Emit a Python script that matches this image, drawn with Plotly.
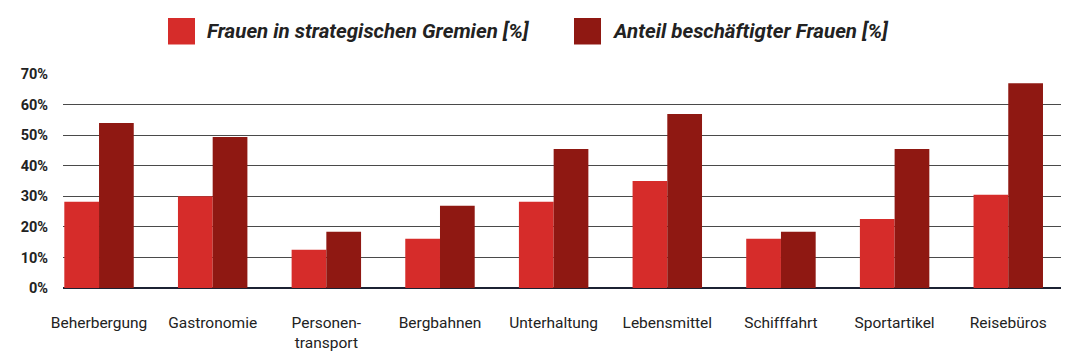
import plotly.graph_objects as go

categories = ["Beherbergung", "Gastronomie", "Personen-<br>transport", "Bergbahnen",
              "Unterhaltung", "Lebensmittel", "Schifffahrt", "Sportartikel", "Reisebüros"]
gremien = [28.2, 30.0, 12.5, 16.1, 28.2, 35.0, 16.1, 22.6, 30.5]
beschaeftigt = [54.0, 49.4, 18.4, 26.9, 45.5, 56.9, 18.4, 45.5, 67.0]
series_names = ["Frauen in strategischen Gremien [%]", "Anteil beschäftigter Frauen [%]"]
colors = ["#d62c2a", "#8f1812"]
y_ticks = [0, 10, 20, 30, 40, 50, 60, 70]

W, H = 1072, 355
L, R, T, B = 63, 11, 74, 67
pw, ph = W - L - R, H - T - B

fig = go.Figure()
fig.add_trace(go.Bar(x=list(range(len(categories))), y=gremien, name=series_names[0],
                     marker=dict(color=colors[0], line=dict(width=0)), showlegend=False))
fig.add_trace(go.Bar(x=list(range(len(categories))), y=beschaeftigt, name=series_names[1],
                     marker=dict(color=colors[1], line=dict(width=0)), showlegend=False))

def px_x(px):
    return (px - L) / pw

def px_y(py):
    return (H - B - py) / ph

# manual legend (large squares)
legend_items = [(168, 205), (574, 610)]
shapes = []
annotations = []
for (sq_x, tx_x), name, col in zip(legend_items, series_names, colors):
    shapes.append(dict(type="rect", xref="paper", yref="paper",
                       x0=px_x(sq_x), x1=px_x(sq_x + 27), y0=px_y(44.5), y1=px_y(18),
                       fillcolor=col, line=dict(width=0)))
    annotations.append(dict(xref="paper", yref="paper", x=px_x(tx_x), y=px_y(31),
                            xanchor="left", yanchor="middle", showarrow=False,
                            text="<b><i>" + name + "</i></b>",
                            font=dict(family="Roboto", size=20.5, color="#222222")))

fig.update_layout(
    width=W, height=H,
    margin=dict(l=L, r=R, t=T, b=B, autoexpand=False),
    paper_bgcolor="white", plot_bgcolor="white",
    barmode="group", bargap=0.389, bargroupgap=0,
    shapes=shapes, annotations=annotations,
    font=dict(family="Roboto", color="#222222"),
    xaxis=dict(tickmode="array", tickvals=list(range(len(categories))), ticktext=categories,
               range=[-0.317, 8.464], showgrid=False, zeroline=False, showline=False,
               ticks="", ticklabelstandoff=23, automargin=False,
               tickfont=dict(family="Roboto", size=15.5, color="#222222")),
    yaxis=dict(range=[0, 70], tickmode="array", tickvals=y_ticks,
               ticktext=["<b>%d%%</b>" % v for v in y_ticks],
               showgrid=True, gridcolor="#4a4a4a", gridwidth=1,
               zeroline=True, zerolinecolor="#1c2233", zerolinewidth=1.5,
               showline=False, ticks="", ticklabelstandoff=14, automargin=False,
               tickfont=dict(family="Roboto", size=14.5, color="#222222")),
)

fig.write_html("out.html", config={"displayModeBar": False},
               post_script="document.body.style.margin='0px';")
